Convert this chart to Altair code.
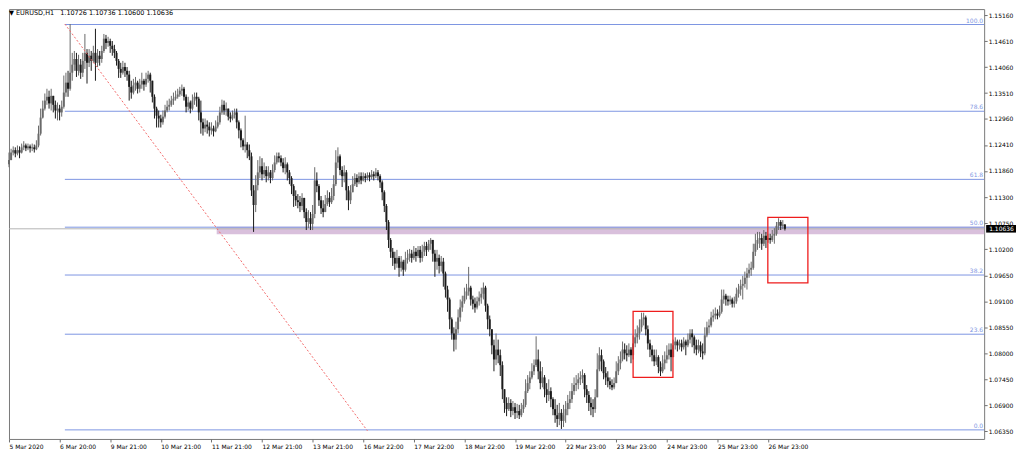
import altair as alt
import pandas as pd

# ---------------- data ----------------
TIME_LABELS = ["5 Mar 2020", "6 Mar 20:00", "9 Mar 21:00", "10 Mar 21:00", "11 Mar 21:00",
               "12 Mar 21:00", "13 Mar 21:00", "16 Mar 22:00", "17 Mar 22:00", "18 Mar 22:00",
               "19 Mar 22:00", "22 Mar 23:00", "23 Mar 23:00", "24 Mar 23:00", "25 Mar 23:00",
               "26 Mar 23:00"]
BARS_PER_LABEL = 24

FIRST_OPEN = 1.1200
CLOSE = [
 1.1209, 1.1225, 1.1230, 1.1223, 1.1230, 1.1225, 1.1236, 1.1240, 1.1234, 1.1238, 1.1234, 1.1236, 1.1232, 1.1240, 1.1265, 1.1299, 1.1318, 1.1335, 1.1343, 1.1329, 1.1345, 1.1326, 1.1314, 1.1318,
 1.1310, 1.1322, 1.1352, 1.1373, 1.1360, 1.1394, 1.1411, 1.1423, 1.1398, 1.1411, 1.1394, 1.1419, 1.1436, 1.1415, 1.1430, 1.1419, 1.1436, 1.1415, 1.1430, 1.1423, 1.1440, 1.1466, 1.1457, 1.1461,
 1.1451, 1.1444, 1.1436, 1.1419, 1.1402, 1.1394, 1.1406, 1.1398, 1.1390, 1.1364, 1.1352, 1.1367, 1.1373, 1.1360, 1.1369, 1.1377, 1.1369, 1.1381, 1.1390, 1.1377, 1.1343, 1.1318, 1.1303, 1.1297,
 1.1289, 1.1301, 1.1314, 1.1322, 1.1326, 1.1335, 1.1339, 1.1343, 1.1348, 1.1356, 1.1360, 1.1343, 1.1322, 1.1331, 1.1318, 1.1335, 1.1343, 1.1339, 1.1310, 1.1289, 1.1276, 1.1284, 1.1280, 1.1272,
 1.1276, 1.1270, 1.1280, 1.1289, 1.1310, 1.1326, 1.1314, 1.1318, 1.1301, 1.1297, 1.1305, 1.1310, 1.1289, 1.1272, 1.1251, 1.1238, 1.1242, 1.1230, 1.1217, 1.1145, 1.1114, 1.1156, 1.1183, 1.1196,
 1.1179, 1.1188, 1.1175, 1.1183, 1.1171, 1.1188, 1.1204, 1.1217, 1.1213, 1.1204, 1.1192, 1.1200, 1.1183, 1.1171, 1.1154, 1.1133, 1.1124, 1.1120, 1.1112, 1.1129, 1.1099, 1.1078, 1.1086, 1.1074,
 1.1095, 1.1166, 1.1154, 1.1124, 1.1107, 1.1099, 1.1116, 1.1129, 1.1120, 1.1133, 1.1158, 1.1204, 1.1217, 1.1188, 1.1175, 1.1183, 1.1145, 1.1124, 1.1141, 1.1158, 1.1171, 1.1162, 1.1175, 1.1166,
 1.1175, 1.1171, 1.1177, 1.1173, 1.1179, 1.1175, 1.1183, 1.1175, 1.1162, 1.1141, 1.1112, 1.1078, 1.1040, 1.1015, 1.1002, 1.0990, 1.1002, 1.0981, 1.0994, 1.0977, 1.0998, 1.1002, 1.1011, 1.1002,
 1.1015, 1.1006, 1.1019, 1.1002, 1.1015, 1.1027, 1.1019, 1.1032, 1.1040, 1.1011, 1.0994, 1.1002, 1.0985, 1.0994, 1.0969, 1.0935, 1.0914, 1.0872, 1.0842, 1.0829, 1.0851, 1.0876, 1.0897, 1.0910,
 1.0922, 1.0931, 1.0939, 1.0914, 1.0905, 1.0897, 1.0910, 1.0918, 1.0926, 1.0939, 1.0901, 1.0872, 1.0851, 1.0817, 1.0787, 1.0808, 1.0796, 1.0775, 1.0724, 1.0695, 1.0682, 1.0695, 1.0678, 1.0686,
 1.0674, 1.0678, 1.0669, 1.0682, 1.0691, 1.0720, 1.0737, 1.0749, 1.0762, 1.0775, 1.0787, 1.0762, 1.0737, 1.0749, 1.0724, 1.0712, 1.0720, 1.0703, 1.0682, 1.0669, 1.0661, 1.0674, 1.0657, 1.0669,
 1.0682, 1.0695, 1.0703, 1.0720, 1.0733, 1.0737, 1.0745, 1.0749, 1.0754, 1.0724, 1.0712, 1.0695, 1.0686, 1.0682, 1.0707, 1.0766, 1.0796, 1.0783, 1.0758, 1.0749, 1.0741, 1.0733, 1.0728, 1.0737,
 1.0762, 1.0779, 1.0787, 1.0808, 1.0800, 1.0796, 1.0808, 1.0796, 1.0821, 1.0834, 1.0842, 1.0855, 1.0872, 1.0876, 1.0851, 1.0821, 1.0808, 1.0796, 1.0783, 1.0792, 1.0771, 1.0762, 1.0779, 1.0787,
 1.0796, 1.0808, 1.0792, 1.0817, 1.0825, 1.0817, 1.0821, 1.0813, 1.0825, 1.0817, 1.0829, 1.0842, 1.0834, 1.0817, 1.0808, 1.0817, 1.0804, 1.0800, 1.0838, 1.0855, 1.0859, 1.0876, 1.0880, 1.0884,
 1.0880, 1.0888, 1.0914, 1.0922, 1.0914, 1.0910, 1.0914, 1.0905, 1.0910, 1.0926, 1.0935, 1.0943, 1.0947, 1.0960, 1.0969, 1.0977, 1.0981, 1.1015, 1.1032, 1.1040, 1.1044, 1.1032, 1.1049, 1.1040,
 1.1044, 1.1040, 1.1049, 1.1053, 1.1070, 1.1078, 1.1070, 1.10726, 1.10636,
]
HIGH = [
 1.1225, 1.1233, 1.1238, 1.1236, 1.1240, 1.1238, 1.1244, 1.1249, 1.1244, 1.1244, 1.1242, 1.1244, 1.1242, 1.1251, 1.1282, 1.1318, 1.1335, 1.1350, 1.1360, 1.1356, 1.1360, 1.1345, 1.1335, 1.1331,
 1.1326, 1.1335, 1.1388, 1.1394, 1.1398, 1.1497, 1.1436, 1.1440, 1.1436, 1.1432, 1.1423, 1.1436, 1.1476, 1.1444, 1.1444, 1.1440, 1.1451, 1.1487, 1.1444, 1.1440, 1.1451, 1.1476, 1.1474, 1.1470,
 1.1466, 1.1461, 1.1453, 1.1440, 1.1423, 1.1415, 1.1419, 1.1415, 1.1406, 1.1398, 1.1377, 1.1381, 1.1385, 1.1377, 1.1381, 1.1394, 1.1381, 1.1394, 1.1398, 1.1394, 1.1377, 1.1348, 1.1322, 1.1314,
 1.1305, 1.1314, 1.1326, 1.1335, 1.1339, 1.1345, 1.1352, 1.1356, 1.1360, 1.1364, 1.1369, 1.1364, 1.1348, 1.1343, 1.1335, 1.1348, 1.1352, 1.1352, 1.1343, 1.1335, 1.1297, 1.1297, 1.1293, 1.1289,
 1.1289, 1.1282, 1.1293, 1.1303, 1.1322, 1.1337, 1.1335, 1.1331, 1.1318, 1.1310, 1.1314, 1.1318, 1.1318, 1.1293, 1.1276, 1.1255, 1.1303, 1.1247, 1.1242, 1.1225, 1.1156, 1.1177, 1.1209, 1.1217,
 1.1213, 1.1204, 1.1196, 1.1196, 1.1188, 1.1200, 1.1219, 1.1225, 1.1225, 1.1219, 1.1213, 1.1215, 1.1204, 1.1188, 1.1175, 1.1158, 1.1145, 1.1137, 1.1133, 1.1139, 1.1129, 1.1107, 1.1103, 1.1099,
 1.1114, 1.1194, 1.1183, 1.1158, 1.1133, 1.1124, 1.1135, 1.1145, 1.1141, 1.1150, 1.1177, 1.1230, 1.1236, 1.1221, 1.1196, 1.1198, 1.1188, 1.1154, 1.1156, 1.1175, 1.1181, 1.1179, 1.1183, 1.1183,
 1.1183, 1.1181, 1.1183, 1.1183, 1.1188, 1.1185, 1.1192, 1.1188, 1.1179, 1.1166, 1.1145, 1.1116, 1.1082, 1.1044, 1.1023, 1.1015, 1.1019, 1.1006, 1.1006, 1.0998, 1.1015, 1.1019, 1.1021, 1.1019,
 1.1027, 1.1023, 1.1027, 1.1027, 1.1030, 1.1036, 1.1036, 1.1040, 1.1044, 1.1040, 1.1019, 1.1019, 1.1009, 1.1006, 1.1002, 1.0973, 1.0943, 1.0918, 1.0876, 1.0855, 1.0867, 1.0893, 1.0914, 1.0922,
 1.0939, 1.0947, 1.0983, 1.0943, 1.0922, 1.0918, 1.0920, 1.0931, 1.0939, 1.0950, 1.0943, 1.0905, 1.0880, 1.0851, 1.0829, 1.0842, 1.0829, 1.0808, 1.0783, 1.0724, 1.0707, 1.0707, 1.0703, 1.0699,
 1.0695, 1.0693, 1.0691, 1.0695, 1.0703, 1.0745, 1.0754, 1.0762, 1.0779, 1.0787, 1.0836, 1.0808, 1.0783, 1.0771, 1.0754, 1.0737, 1.0745, 1.0728, 1.0707, 1.0703, 1.0691, 1.0695, 1.0682, 1.0691,
 1.0699, 1.0712, 1.0720, 1.0737, 1.0749, 1.0754, 1.0758, 1.0762, 1.0766, 1.0758, 1.0733, 1.0720, 1.0707, 1.0703, 1.0724, 1.0800, 1.0813, 1.0808, 1.0787, 1.0771, 1.0762, 1.0749, 1.0745, 1.0749,
 1.0783, 1.0794, 1.0804, 1.0825, 1.0821, 1.0817, 1.0821, 1.0813, 1.0838, 1.0851, 1.0859, 1.0872, 1.0886, 1.0886, 1.0880, 1.0859, 1.0829, 1.0817, 1.0808, 1.0808, 1.0796, 1.0783, 1.0796, 1.0804,
 1.0817, 1.0821, 1.0821, 1.0829, 1.0834, 1.0829, 1.0829, 1.0829, 1.0834, 1.0829, 1.0842, 1.0851, 1.0851, 1.0838, 1.0829, 1.0829, 1.0825, 1.0821, 1.0855, 1.0867, 1.0872, 1.0888, 1.0893, 1.0897,
 1.0893, 1.0901, 1.0935, 1.0935, 1.0926, 1.0922, 1.0922, 1.0918, 1.0920, 1.0939, 1.0947, 1.0956, 1.0964, 1.0973, 1.0981, 1.0990, 1.0994, 1.1032, 1.1053, 1.1057, 1.1057, 1.1053, 1.1061, 1.1057,
 1.1053, 1.1053, 1.1061, 1.1065, 1.1078, 1.1086, 1.1082, 1.1082, 1.10736,
]
LOW = [
 1.1194, 1.1209, 1.1219, 1.1215, 1.1219, 1.1213, 1.1223, 1.1230, 1.1228, 1.1230, 1.1225, 1.1228, 1.1225, 1.1230, 1.1236, 1.1261, 1.1297, 1.1314, 1.1326, 1.1318, 1.1314, 1.1310, 1.1297, 1.1293,
 1.1293, 1.1301, 1.1318, 1.1343, 1.1343, 1.1356, 1.1377, 1.1398, 1.1385, 1.1388, 1.1381, 1.1385, 1.1402, 1.1371, 1.1406, 1.1398, 1.1415, 1.1377, 1.1406, 1.1409, 1.1415, 1.1436, 1.1444, 1.1449,
 1.1436, 1.1430, 1.1425, 1.1409, 1.1383, 1.1383, 1.1390, 1.1385, 1.1377, 1.1335, 1.1339, 1.1348, 1.1356, 1.1350, 1.1352, 1.1360, 1.1356, 1.1364, 1.1373, 1.1352, 1.1331, 1.1297, 1.1278, 1.1278,
 1.1278, 1.1284, 1.1297, 1.1310, 1.1314, 1.1322, 1.1326, 1.1335, 1.1339, 1.1343, 1.1345, 1.1335, 1.1310, 1.1314, 1.1308, 1.1314, 1.1326, 1.1322, 1.1293, 1.1265, 1.1261, 1.1268, 1.1265, 1.1259,
 1.1263, 1.1259, 1.1268, 1.1276, 1.1284, 1.1305, 1.1305, 1.1303, 1.1293, 1.1289, 1.1293, 1.1297, 1.1276, 1.1255, 1.1236, 1.1230, 1.1225, 1.1213, 1.1209, 1.1133, 1.1057, 1.1099, 1.1145, 1.1171,
 1.1166, 1.1171, 1.1162, 1.1166, 1.1160, 1.1166, 1.1183, 1.1200, 1.1204, 1.1196, 1.1183, 1.1179, 1.1166, 1.1158, 1.1137, 1.1110, 1.1112, 1.1107, 1.1099, 1.1103, 1.1086, 1.1061, 1.1065, 1.1061,
 1.1061, 1.1086, 1.1141, 1.1112, 1.1095, 1.1088, 1.1103, 1.1112, 1.1110, 1.1116, 1.1124, 1.1154, 1.1192, 1.1177, 1.1152, 1.1162, 1.1124, 1.1103, 1.1116, 1.1141, 1.1154, 1.1152, 1.1158, 1.1158,
 1.1164, 1.1162, 1.1166, 1.1164, 1.1168, 1.1166, 1.1171, 1.1166, 1.1150, 1.1124, 1.1099, 1.1061, 1.1023, 1.1002, 1.0985, 1.0977, 1.0981, 1.0962, 1.0973, 1.0964, 1.0973, 1.0990, 1.0994, 1.0992,
 1.0998, 1.0994, 1.1002, 1.0992, 1.0994, 1.1006, 1.1006, 1.1015, 1.1019, 1.0994, 1.0962, 1.0977, 1.0969, 1.0973, 1.0941, 1.0918, 1.0888, 1.0851, 1.0829, 1.0804, 1.0808, 1.0842, 1.0867, 1.0888,
 1.0905, 1.0914, 1.0922, 1.0901, 1.0893, 1.0886, 1.0893, 1.0901, 1.0905, 1.0914, 1.0888, 1.0851, 1.0836, 1.0798, 1.0762, 1.0775, 1.0779, 1.0752, 1.0703, 1.0674, 1.0667, 1.0678, 1.0665, 1.0669,
 1.0661, 1.0663, 1.0661, 1.0665, 1.0674, 1.0686, 1.0716, 1.0724, 1.0745, 1.0754, 1.0771, 1.0745, 1.0724, 1.0728, 1.0707, 1.0695, 1.0699, 1.0686, 1.0669, 1.0653, 1.0644, 1.0648, 1.0640, 1.0644,
 1.0653, 1.0669, 1.0682, 1.0695, 1.0712, 1.0720, 1.0724, 1.0733, 1.0737, 1.0707, 1.0695, 1.0678, 1.0669, 1.0665, 1.0674, 1.0707, 1.0762, 1.0762, 1.0745, 1.0733, 1.0728, 1.0724, 1.0722, 1.0724,
 1.0737, 1.0754, 1.0766, 1.0783, 1.0787, 1.0783, 1.0792, 1.0779, 1.0787, 1.0813, 1.0821, 1.0829, 1.0846, 1.0859, 1.0838, 1.0808, 1.0792, 1.0783, 1.0773, 1.0775, 1.0758, 1.0752, 1.0758, 1.0766,
 1.0779, 1.0787, 1.0762, 1.0796, 1.0808, 1.0804, 1.0808, 1.0804, 1.0808, 1.0796, 1.0813, 1.0821, 1.0813, 1.0800, 1.0796, 1.0800, 1.0792, 1.0787, 1.0796, 1.0834, 1.0842, 1.0855, 1.0867, 1.0872,
 1.0872, 1.0876, 1.0884, 1.0905, 1.0901, 1.0901, 1.0903, 1.0897, 1.0897, 1.0905, 1.0918, 1.0922, 1.0914, 1.0939, 1.0935, 1.0960, 1.0964, 1.0977, 1.1006, 1.1019, 1.1023, 1.1019, 1.1027, 1.1023,
 1.1034, 1.1032, 1.1036, 1.1032, 1.1049, 1.1061, 1.1061, 1.1063, 1.10600,
]

PRICE_TICKS = [1.15160, 1.14610, 1.14060, 1.13510, 1.12960, 1.12410, 1.11860, 1.11300,
               1.10750, 1.10200, 1.09650, 1.09100, 1.08550, 1.08000, 1.07450, 1.06900, 1.06350]

# Fibonacci retracement drawn on the chart
FIB_HIGH = 1.1496
FIB_LOW = 1.0638
FIB_LEVELS = [0.0, 23.6, 38.2, 50.0, 61.8, 78.6, 100.0]
FIB_START_BAR = 26.5

# Thistle support zone, red boxes, dotted trend line
ZONE_START_BAR = 98.5
ZONE_TOP, ZONE_BOTTOM = 1.1068, 1.1052
BOX_X1 = [296.0, 359.9]
BOX_X2 = [314.9, 378.9]
BOX_TOP = [1.0889, 1.1088]
BOX_BOTTOM = [1.0749, 1.0949]
TREND_BARS = [26.5, 170.0]
TREND_PRICES = [1.1497, 1.0636]

LAST_PRICE = 1.10636
HEADER = "\u25bc EURUSD,H1\u00a0\u00a0 1.10726 1.10736 1.10600 1.10636"

# ---------------- build ----------------
n = min(len(CLOSE), len(HIGH), len(LOW))
opens = [FIRST_OPEN] + CLOSE[:n - 1]
bars = pd.DataFrame({
    "i": list(range(n)),
    "open": opens,
    "close": CLOSE[:n],
    "high": [max(HIGH[k], opens[k], CLOSE[k]) for k in range(n)],
    "low": [min(LOW[k], opens[k], CLOSE[k]) for k in range(n)],
})
bars["dir"] = ["up" if c >= o else "down" for o, c in zip(bars["open"], bars["close"])]

X_END = 462.5
xs = alt.Scale(domain=[0, X_END], nice=False, zero=False)
ys = alt.Scale(domain=[1.061877, 1.152864], nice=False, zero=False)
FONT = "DejaVu Sans"
FIB_COLOR = "#7d95e2"

label_js = "[" + ",".join("'%s'" % t for t in TIME_LABELS) + "]"
x_axis = alt.Axis(values=[k * BARS_PER_LABEL for k in range(len(TIME_LABELS))],
                  labelExpr=label_js + "[round(datum.value/%d)]" % BARS_PER_LABEL,
                  orient="bottom", title=None, grid=False, domain=False,
                  tickSize=3, tickColor="#707070", labelAlign="left", labelPadding=2,
                  labelFont=FONT, labelFontSize=6, labelColor="#000000", labelOverlap=False,
                  labelFlush=False)
y_axis = alt.Axis(values=PRICE_TICKS, format=".5f", orient="right", title=None, grid=False,
                  domain=False, tickSize=3, tickColor="#707070", labelPadding=1,
                  labelFont=FONT, labelFontSize=6, labelColor="#000000", labelOverlap=False,
                  labelFlush=False)


def X(field):
    return alt.X(field, scale=xs, axis=x_axis)


def Y(field):
    return alt.Y(field, scale=ys, axis=y_axis)


fib = pd.DataFrame({
    "level": FIB_LEVELS,
    "price": [FIB_LOW + lv / 100.0 * (FIB_HIGH - FIB_LOW) for lv in FIB_LEVELS],
})
fib["x1"] = FIB_START_BAR
fib["x2"] = X_END
fib["label"] = ["%.1f" % lv for lv in FIB_LEVELS]

zone = pd.DataFrame({"x1": [ZONE_START_BAR], "x2": [X_END], "top": [ZONE_TOP], "bottom": [ZONE_BOTTOM]})
boxes = pd.DataFrame({"x1": BOX_X1, "x2": BOX_X2, "top": BOX_TOP, "bottom": BOX_BOTTOM})
trend = pd.DataFrame({"i": TREND_BARS, "p": TREND_PRICES})
last = pd.DataFrame({"p": [LAST_PRICE], "hi": [LAST_PRICE + 0.0008], "lo": [LAST_PRICE - 0.0008],
                     "txt": ["%.5f" % LAST_PRICE]})
header = pd.DataFrame({"t": [HEADER]})

zone_layer = alt.Chart(zone).mark_rect(color="#d9c0dc").encode(
    x=X("x1:Q"), x2="x2:Q", y=Y("top:Q"), y2="bottom:Q")

price_line = alt.Chart(last).mark_rule(color="#b4b4b4", strokeWidth=1).encode(y=Y("p:Q"))

fib_lines = alt.Chart(fib).mark_rule(color=FIB_COLOR, strokeWidth=1).encode(
    x=X("x1:Q"), x2="x2:Q", y=Y("price:Q"))

fib_text = alt.Chart(fib).mark_text(align="right", baseline="bottom", dx=-1, dy=-1,
                                     font=FONT, fontSize=6, color=FIB_COLOR).encode(
    x=X("x2:Q"), y=Y("price:Q"), text="label:N")

wicks = alt.Chart(bars).mark_rule(strokeWidth=1.0).encode(
    x=X("i:Q"), y=Y("low:Q"), y2="high:Q",
    color=alt.Color("dir:N", scale=alt.Scale(domain=["up", "down"], range=["#6a6a6a", "#1a1a1a"]),
                    legend=None))
bodies = alt.Chart(bars).mark_rule(strokeWidth=2.0).encode(
    x=X("i:Q"), y=Y("open:Q"), y2="close:Q",
    color=alt.Color("dir:N", scale=alt.Scale(domain=["up", "down"], range=["#7c7c7c", "#0a0a0a"]),
                    legend=None))

trend_layer = alt.Chart(trend).mark_line(color="#f26a6a", strokeWidth=1, strokeDash=[2, 2]).encode(
    x=X("i:Q"), y=Y("p:Q"))

box_layer = alt.Chart(boxes).mark_rect(fillOpacity=0, stroke="#ee1c1c", strokeWidth=1.3).encode(
    x=X("x1:Q"), x2="x2:Q", y=Y("top:Q"), y2="bottom:Q")

last_box = alt.Chart(last).mark_rect(color="#000000").encode(
    x=alt.value(982), x2=alt.value(1012), y=Y("hi:Q"), y2="lo:Q")
last_txt = alt.Chart(last).mark_text(align="left", baseline="middle", font=FONT, fontSize=6,
                                     color="#ffffff").encode(
    x=alt.value(985), y=Y("p:Q"), text="txt:N")

header_txt = alt.Chart(header).mark_text(align="left", baseline="alphabetic", font=FONT,
                                         fontSize=6.5, color="#000000").encode(
    x=alt.value(0), y=alt.value(6), text="t:N")

chart = alt.layer(zone_layer, price_line, fib_lines, fib_text, wicks, bodies, trend_layer,
                  box_layer, last_box, last_txt, header_txt).properties(
    width=980, height=432, padding=0, background="#ffffff"
).configure_view(stroke="#7a7a7a", strokeWidth=1
).configure_axis(labelOverlap=False)

chart.save("out.html", embed_options={"renderer": "svg", "actions": False})
